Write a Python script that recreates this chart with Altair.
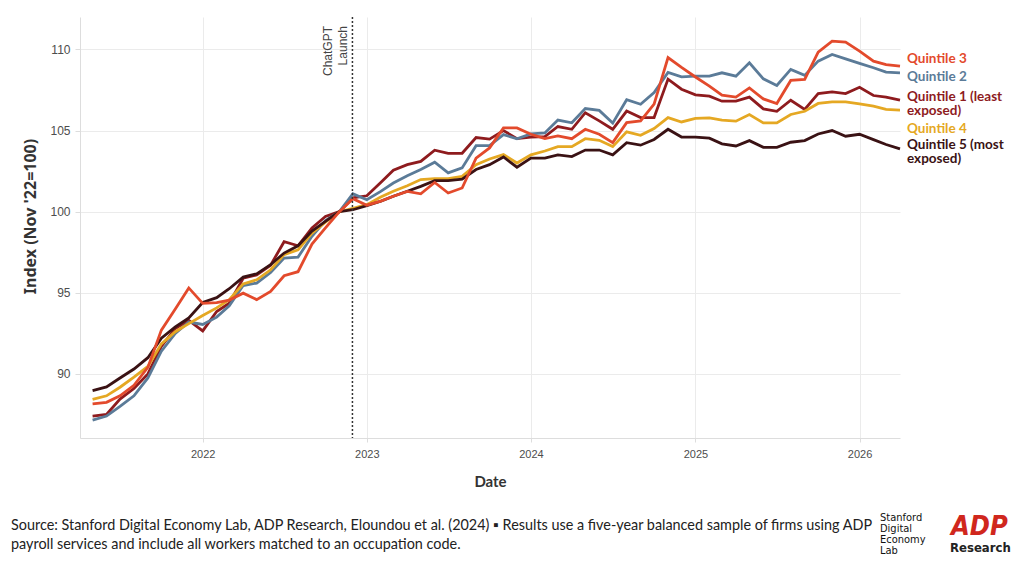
import altair as alt
import pandas as pd

# Monthly observations, May 2021 - Apr 2026 (index, Nov 2022 = 100)
dates = pd.date_range("2021-05-01", periods=60, freq="MS").strftime("%Y-%m-%d").tolist()

q3 = [88.15, 88.25, 88.65, 89.3, 90.4, 92.7, 94.0, 95.3, 94.35, 94.4, 94.55, 94.98, 94.58, 95.08, 96.05, 96.3, 98.0, 99.0, 100.0,
      100.8, 100.4, 100.65, 100.95, 101.25, 101.1, 101.8, 101.15, 101.46, 103.3, 103.93, 105.16, 105.16,
      104.77, 104.5, 104.67, 104.5, 105.08, 104.77, 104.26, 105.49, 105.6, 106.63, 109.5, 108.89,
      108.3, 107.74, 107.18, 107.06, 107.63, 106.95, 106.67, 108.09, 108.15, 109.84, 110.51, 110.45, 109.9, 109.28, 109.07, 108.97]
q2 = [87.15, 87.4, 88.0, 88.65, 89.75, 91.4, 92.5, 93.2, 93.05, 93.5, 94.2, 95.45, 95.6, 96.25, 97.14, 97.2, 98.48, 99.45, 100.0, 101.1, 100.74, 101.25,
      101.77, 102.22, 102.6, 103.05, 102.39, 102.7, 104.07, 104.07, 104.75, 104.49,
      104.8, 104.85, 105.65, 105.48, 106.36, 106.24, 105.46, 106.9, 106.62, 107.35, 108.58, 108.31,
      108.35, 108.35, 108.56, 108.35, 109.18, 108.19, 107.78, 108.77, 108.4, 109.28, 109.69, 109.42, 109.14, 108.87, 108.6, 108.56]
q1 = [87.4, 87.5, 88.45, 89.1, 90.0, 91.7, 92.8, 93.3, 92.65, 93.85, 94.36, 95.9, 96.1, 96.7, 98.15, 97.9, 99.0, 99.7, 100.0, 100.85, 100.98, 101.8,
      102.55, 102.9, 103.1, 103.79, 103.6, 103.6, 104.57, 104.47, 105.0, 104.5,
      104.6, 104.63, 105.25, 105.08, 106.1, 105.6, 105.08, 106.2, 105.8, 105.8, 108.17, 107.55,
      107.2, 107.12, 106.81, 106.81, 107.06, 106.34, 106.19, 106.87, 106.3, 107.28, 107.39, 107.28, 107.67, 107.16, 107.06, 106.87]
q4 = [88.43, 88.65, 89.18, 89.8, 90.46, 91.85, 92.6, 93.1, 93.6, 94.07, 94.58, 95.55, 95.8, 96.42, 97.35, 97.65, 98.68, 99.35, 100.0, 100.2, 100.43,
      100.9, 101.26, 101.6, 101.98, 102.04, 102.04, 102.18, 102.9, 103.25, 103.52, 103.0,
      103.5, 103.74, 104.01, 104.01, 104.5, 104.4, 104.01, 104.92, 104.71, 105.12, 105.8, 105.53,
      105.75, 105.78, 105.64, 105.58, 105.99, 105.47, 105.47, 105.99, 106.19, 106.67, 106.77, 106.77, 106.65, 106.5, 106.3, 106.26]
q5 = [88.97, 89.2, 89.75, 90.3, 91.0, 92.2, 92.9, 93.45, 94.4, 94.7, 95.25,
      95.97, 96.17, 96.73, 97.45, 97.9, 98.8, 99.4, 100.0,
      100.12, 100.37, 100.64, 100.95, 101.26, 101.56, 101.91, 101.91, 102.0, 102.6, 102.9, 103.37, 102.74,
      103.3, 103.3, 103.5, 103.4, 103.8, 103.8, 103.5, 104.25, 104.1, 104.45, 105.08, 104.6,
      104.6, 104.53, 104.18, 104.05, 104.38, 103.97, 103.97, 104.28, 104.38, 104.79, 105.0, 104.65, 104.77, 104.44, 104.14, 103.87]

series_names = ["Quintile 1 (least exposed)", "Quintile 2", "Quintile 4", "Quintile 5 (most exposed)", "Quintile 3"]
series_values = [q1, q2, q4, q5, q3]
series_colors = ["#8E1B1E", "#5B7B98", "#E5A823", "#3A1214", "#E34A2C"]

label_texts = ["Quintile 3", "Quintile 2", "Quintile 1 (least\nexposed)", "Quintile 4", "Quintile 5 (most\nexposed)"]
label_y = [109.44, 108.33, 107.07, 105.12, 104.14]
label_colors = ["#E34A2C", "#5B7B98", "#8E1B1E", "#E5A823", "#3A1214"]

launch_date = ["2022-11-30"]
launch_label = ["ChatGPT\nLaunch"]

footer = ("Source: Stanford Digital Economy Lab, ADP Research, Eloundou et al. (2024) \u25aa Results use a five-year balanced sample of firms using ADP\n"
          "payroll services and include all workers matched to an occupation code.")

rows = []
for name, vals in zip(series_names, series_values):
    for d, v in zip(dates, vals):
        rows.append({"date": d, "value": v, "series": name})
df = pd.DataFrame(rows)

x_scale = alt.Scale(type="utc", domain=[alt.DateTime(year=2021, month=4, date=3, utc=True),
                                        alt.DateTime(year=2026, month=4, date=1, utc=True)])
y_scale = alt.Scale(domain=[86.05, 112.0], nice=False, zero=False)

x_axis = alt.Axis(title="Date", format="%Y", formatType="utc", tickCount={"interval": "year", "step": 1},
                  grid=True, gridColor="#EBEBEB", domainColor="#DDDDDD", tickColor="#DDDDDD", tickSize=4,
                  labelFont="Liberation Sans", labelFontSize=11, labelColor="#4D4D4D", labelPadding=6,
                  titleFont="Lato", titleFontSize=15, titleFontWeight="bold", titleColor="#333333",
                  titleY=43, titleBaseline="middle")
y_axis = alt.Axis(title="Index (Nov '22=100)", values=[90, 95, 100, 105, 110],
                  grid=True, gridColor="#EBEBEB", domainColor="#DDDDDD", tickColor="#DDDDDD", tickSize=5,
                  labelFont="Liberation Sans", labelFontSize=12, labelColor="#4D4D4D", labelPadding=5,
                  titleFont="Noto Sans", titleFontSize=16, titleFontWeight="bold", titleColor="#333333",
                  titleX=-50, titleY=199, titleAngle=270, titleAlign="center", titleBaseline="middle")

X = alt.X("date:T", scale=x_scale, axis=x_axis)
Y = alt.Y("value:Q", scale=y_scale, axis=y_axis)

layers = []
for name, col in zip(series_names, series_colors):
    layers.append(
        alt.Chart(df).transform_filter(alt.datum.series == name)
        .mark_line(color=col, strokeWidth=2.8, strokeJoin="miter")
        .encode(x=X, y=Y)
    )

launch_df = pd.DataFrame({"date": launch_date, "label": launch_label})
rule = alt.Chart(launch_df).mark_rule(color="#333333", strokeDash=[2, 2], strokeWidth=1.5).encode(x=X)
launch_text = alt.Chart(launch_df).mark_text(
    angle=270, align="right", baseline="bottom", lineBreak="\n", fontSize=12,
    font="Liberation Sans", color="#444444", dy=-17, lineHeight=15
).encode(x=X, y=alt.value(9), text="label:N")

lab_df = pd.DataFrame({"text": label_texts, "value": label_y, "color": label_colors})
labels = alt.Chart(lab_df).mark_text(
    align="left", baseline="middle", lineBreak="\n", fontSize=13.5, fontWeight="bold", font="Lato", lineHeight=14
).encode(x=alt.value(827), y=Y, text="text:N", color=alt.Color("color:N", scale=None))

foot = alt.Chart(pd.DataFrame({"t": [footer]})).mark_text(
    align="left", baseline="middle", lineBreak="\n", fontSize=14.4, font="Lato", color="#222222", lineHeight=19
).encode(x=alt.value(-69), y=alt.value(509), text="t:N")

stanford = alt.Chart(pd.DataFrame({"t": ["Stanford\nDigital\nEconomy\nLab"]})).mark_text(
    align="left", baseline="top", lineBreak="\n", fontSize=11, font="DejaVu Sans Condensed, Roboto",
    color="#111111", lineHeight=11
).encode(x=alt.value(800), y=alt.value(495), text="t:N")

adp = alt.Chart(pd.DataFrame({"t": ["ADP"]})).mark_text(
    align="left", baseline="alphabetic", fontSize=27, fontWeight="bold", fontStyle="italic",
    font="DejaVu Sans Condensed, DejaVu Sans", color="#D0271D"
).encode(x=alt.value(871), y=alt.value(518), text="t:N")
research = alt.Chart(pd.DataFrame({"t": ["Research"]})).mark_text(
    align="left", baseline="middle", fontSize=13, fontWeight="bold", font="DejaVu Sans Condensed, Roboto",
    color="#222222"
).encode(x=alt.value(870), y=alt.value(531), text="t:N")

chart = alt.layer(*layers, rule, launch_text, labels, foot, stanford, adp, research).properties(
    width=820, height=421,
    autosize=alt.AutoSizeParams(type="none"),
    padding={"left": 80, "top": 17, "right": 120, "bottom": 131}
).configure_view(stroke=None)

chart.save("out.html", embed_options={"renderer": "svg", "actions": False})
